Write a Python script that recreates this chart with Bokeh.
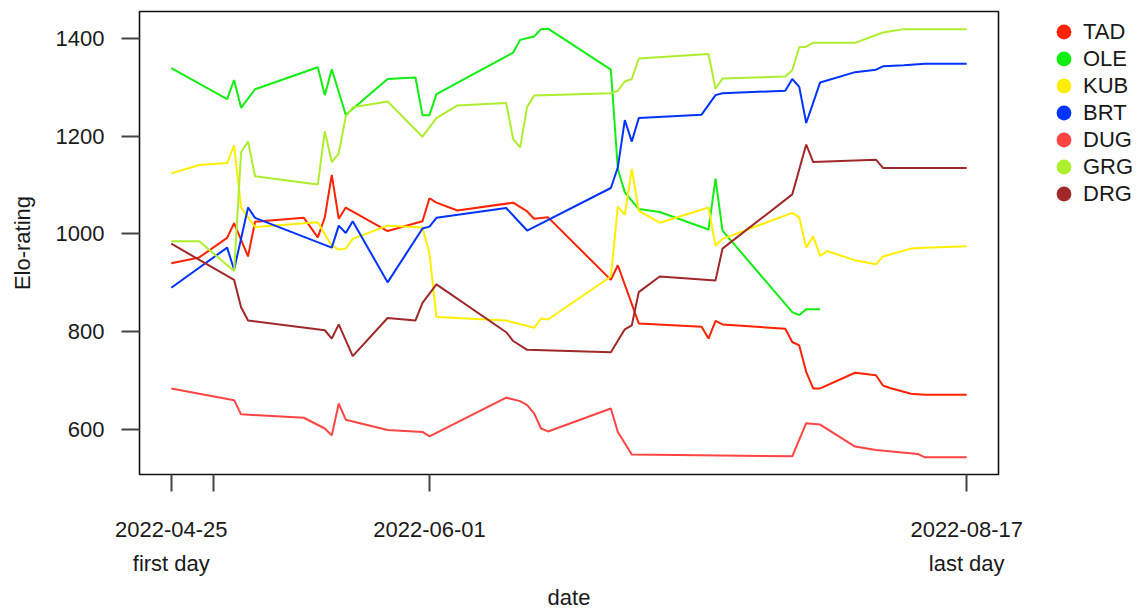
import numpy as np
import pandas as pd
from bokeh.plotting import figure
from bokeh.layouts import row
from bokeh.models import Range1d, FixedTicker, Legend, LegendItem
from bokeh.embed import file_html
from bokeh.resources import INLINE

FIRST_DAY = "2022-04-25"
TICK_DATES = ["2022-04-25", "2022-05-01", "2022-06-01", "2022-08-17"]
TICK_LABELS = ["2022-04-25\nfirst day", "", "2022-06-01", "2022-08-17\nlast day"]
Y_TICKS = [600, 800, 1000, 1200, 1400]

PLAYERS = ["TAD", "OLE", "KUB", "BRT", "DUG", "GRG", "DRG"]
COLORS = ["#FF2200", "#11EE11", "#FFEE00", "#0033FF", "#FF4444", "#ADEE2F", "#A02828"]

# days since FIRST_DAY and Elo values for each player
TAD_DAYS = [0, 4, 8, 9, 11, 12, 19, 21, 22, 23, 24, 25, 31, 36, 37, 38, 41, 49, 51, 52, 54, 63, 64, 67,
            76, 77, 78, 79, 88, 89, 90, 91, 92, 93, 98, 101, 102, 103, 106, 108, 114]
TAD_ELO = [940, 952, 992, 1022, 954, 1025, 1033, 993, 1034, 1121, 1031, 1054, 1006, 1026, 1073, 1064, 1048,
           1064, 1046, 1031, 1034, 906, 936, 817, 810, 786, 822, 815, 806, 779, 772, 718, 684, 684, 716,
           711, 690, 685, 673, 671, 671]

OLE_DAYS = [0, 8, 9, 10, 12, 21, 22, 23, 25, 31, 35, 36, 37, 38, 49, 50, 52, 53, 54, 63, 64, 65, 67, 70,
            77, 78, 79, 89, 90, 91, 93]
OLE_ELO = [1339, 1276, 1315, 1258, 1296, 1341, 1284, 1337, 1244, 1317, 1320, 1243, 1243, 1286, 1371, 1397,
           1404, 1419, 1420, 1336, 1133, 1085, 1051, 1045, 1009, 1113, 1007, 840, 834, 846, 846]

KUB_DAYS = [0, 4, 8, 9, 10, 12, 21, 23, 24, 25, 26, 31, 36, 37, 38, 48, 52, 53, 54, 63, 64, 65, 66, 67,
            70, 77, 78, 79, 89, 90, 91, 92, 93, 94, 98, 101, 102, 106, 108, 114]
KUB_ELO = [1124, 1141, 1145, 1181, 1055, 1014, 1024, 976, 968, 970, 990, 1017, 1013, 960, 830, 823, 808,
           827, 825, 913, 1056, 1039, 1133, 1047, 1023, 1054, 976, 990, 1043, 1034, 972, 995, 955, 965,
           946, 938, 954, 970, 972, 975]

BRT_DAYS = [0, 8, 9, 11, 12, 23, 24, 25, 26, 31, 36, 37, 38, 48, 51, 63, 64, 65, 66, 67, 76, 78, 79, 88,
            89, 90, 91, 93, 98, 101, 102, 105, 108, 114]
BRT_ELO = [890, 972, 927, 1054, 1033, 972, 1017, 1002, 1026, 901, 1011, 1015, 1033, 1053, 1007, 1094, 1136,
           1233, 1189, 1237, 1244, 1284, 1288, 1293, 1317, 1301, 1227, 1310, 1331, 1336, 1343, 1345, 1348,
           1348]

DUG_DAYS = [0, 9, 10, 19, 22, 23, 24, 25, 31, 36, 37, 48, 50, 51, 52, 53, 54, 63, 64, 66, 89, 91, 93, 98,
            101, 107, 108, 114]
DUG_ELO = [684, 660, 631, 624, 602, 588, 653, 620, 599, 595, 586, 665, 658, 650, 633, 602, 596, 643, 595,
           549, 545, 613, 610, 565, 558, 550, 543, 543]

GRG_DAYS = [0, 4, 9, 10, 11, 12, 21, 22, 23, 24, 25, 26, 31, 36, 37, 38, 41, 48, 49, 50, 51, 52, 63, 64,
            65, 66, 67, 77, 78, 79, 88, 89, 90, 91, 92, 98, 102, 105, 114]
GRG_ELO = [985, 985, 924, 1167, 1189, 1118, 1101, 1210, 1147, 1165, 1240, 1259, 1271, 1199, 1218, 1237,
           1263, 1268, 1194, 1177, 1260, 1283, 1288, 1293, 1312, 1317, 1359, 1368, 1297, 1318, 1322, 1335,
           1382, 1383, 1391, 1391, 1412, 1419, 1419]

DRG_DAYS = [0, 9, 10, 11, 22, 23, 24, 26, 31, 35, 36, 37, 38, 48, 49, 51, 63, 65, 66, 67, 70, 78, 79, 89,
            91, 92, 101, 102, 114]
DRG_ELO = [980, 906, 850, 823, 803, 786, 815, 750, 828, 823, 859, 878, 897, 799, 781, 763, 758, 805, 813,
           881, 913, 905, 970, 1081, 1183, 1147, 1152, 1135, 1135]

SERIES_DAYS = [TAD_DAYS, OLE_DAYS, KUB_DAYS, BRT_DAYS, DUG_DAYS, GRG_DAYS, DRG_DAYS]
SERIES_ELO = [TAD_ELO, OLE_ELO, KUB_ELO, BRT_ELO, DUG_ELO, GRG_ELO, DRG_ELO]

FONT = "Liberation Sans"
TXT = "#1a1a1a"

all_x = np.concatenate([np.array(d, float) for d in SERIES_DAYS])
all_y = np.concatenate([np.array(v, float) for v in SERIES_ELO])
xpad = 0.04 * (all_x.max() - all_x.min())
ypad = 0.04 * (all_y.max() - all_y.min())

p = figure(width=1030, height=612, output_backend="svg", toolbar_location=None,
           x_range=Range1d(all_x.min() - xpad, all_x.max() + xpad),
           y_range=Range1d(all_y.min() - ypad, all_y.max() + ypad),
           min_border_left=139, min_border_right=32, min_border_top=11, min_border_bottom=138)
p.background_fill_color = "white"
p.border_fill_color = "white"
p.outline_line_color = "#111111"
p.outline_line_width = 1.6
p.xgrid.visible = False
p.ygrid.visible = False

start = pd.Timestamp(FIRST_DAY)
tick_days = [(pd.Timestamp(d) - start).days for d in TICK_DATES]

for ax in (p.xaxis[0], p.yaxis[0]):
    ax.axis_line_color = None
    ax.major_tick_in = 0
    ax.minor_tick_in = 0
    ax.minor_tick_out = 0
    ax.major_tick_line_color = "#444444"
    ax.major_tick_line_width = 2
    ax.major_label_text_font = FONT
    ax.major_label_text_font_size = "22px"
    ax.major_label_text_color = TXT
    ax.axis_label_text_font = FONT
    ax.axis_label_text_font_size = "22px"
    ax.axis_label_text_font_style = "normal"
    ax.axis_label_text_color = TXT

p.xaxis.ticker = FixedTicker(ticks=tick_days)
p.xaxis.major_label_overrides = {d: lab for d, lab in zip(tick_days, TICK_LABELS)}
p.xaxis.major_tick_out = 17
p.xaxis.major_label_standoff = 25
p.xaxis.major_label_text_line_height = 1.36
p.xaxis.axis_label = "date"
p.xaxis.axis_label_standoff = 6

p.yaxis.ticker = FixedTicker(ticks=Y_TICKS)
p.yaxis.major_tick_out = 18
p.yaxis.major_label_standoff = 17
p.yaxis.axis_label = "Elo-rating"
p.yaxis.axis_label_standoff = 18

for col, days, elo in zip(COLORS, SERIES_DAYS, SERIES_ELO):
    p.line(x=days, y=elo, line_color=col, line_width=2)

# separate narrow panel that carries the legend (right of the plot box)
lf = figure(width=108, height=612, output_backend="svg", toolbar_location=None,
            x_range=Range1d(0, 1), y_range=Range1d(0, 1),
            x_axis_location=None, y_axis_location=None,
            min_border_left=13, min_border_right=0, min_border_top=11, min_border_bottom=0)
lf.outline_line_color = None
lf.xgrid.visible = False
lf.ygrid.visible = False
lf.background_fill_color = "white"
lf.border_fill_color = "white"

items = []
for name, col in zip(PLAYERS, COLORS):
    dot = lf.scatter(x=[np.nan], y=[np.nan], marker="circle", size=10,
                     fill_color=col, line_color=col, line_width=4)
    items.append(LegendItem(label=name, renderers=[dot]))

legend = Legend(items=items, location="top_left", glyph_width=27, glyph_height=27,
                label_standoff=6, padding=5, spacing=0, margin=7,
                border_line_color=None, background_fill_alpha=0,
                label_text_font=FONT, label_text_font_size="22px", label_text_color=TXT)
lf.add_layout(legend)

layout = row(p, lf)
open("out.html", "w").write(file_html(layout, INLINE))
